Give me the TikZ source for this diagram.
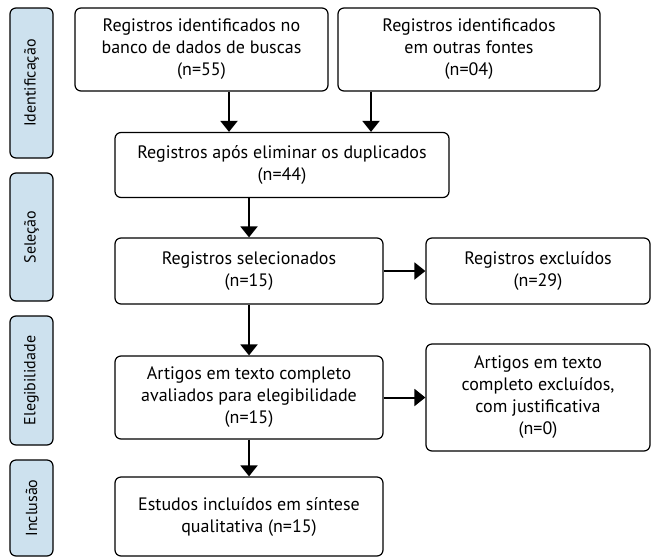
\documentclass[tikz,border=0pt]{standalone}
\usepackage{fontspec}
\setmainfont{PT Sans}
\usetikzlibrary{arrows.meta}
\definecolor{sidefill}{RGB}{205,225,238}
\begin{document}
\begin{tikzpicture}[x=1pt,y=-1pt,
  box/.style={draw, line width=1.2pt, rounded corners=6pt, align=center, inner sep=2pt,
    font=\fontsize{18}{22}\selectfont},
  side/.style={draw, line width=1.2pt, rounded corners=6pt, fill=sidefill,
    font=\fontsize{16}{18}\selectfont, rotate=90, inner sep=0pt},
  arr/.style={line width=2pt, -{Triangle[width=17pt,length=11pt]}}]
\useasboundingbox (0,0) rectangle (651,558);
% side labels
\node[side, minimum width=150pt, minimum height=43pt] (s1) at (31.5,83) {Identificação};
\node[side, minimum width=128pt, minimum height=43pt] (s2) at (31.5,237) {Seleção};
\node[side, minimum width=129pt, minimum height=43pt] (s3) at (31.5,380.5) {Elegibilidade};
\node[side, minimum width=96pt, minimum height=43pt] (s4) at (31.5,508) {Inclusão};
% boxes
\node[box, minimum width=253pt, minimum height=83pt] (A) at (201.5,49.5) {Registros identificados no\\banco de dados de buscas\\(n=55)};
\node[box, minimum width=262pt, minimum height=83pt] (B) at (469,49.5) {Registros identificados\\em outras fontes\\(n=04)};
\node[box, minimum width=334pt, minimum height=65pt] (C) at (282,165) {Registros após eliminar os duplicados\\(n=44)};
\node[box, minimum width=268pt, minimum height=66pt] (D) at (249,271) {Registros selecionados\\(n=15)};
\node[box, minimum width=224pt, minimum height=66pt] (E) at (538,271) {Registros excluídos\\(n=29)};
\node[box, minimum width=268pt, minimum height=83pt] (F) at (249,397.5) {Artigos em texto completo\\avaliados para elegibilidade\\(n=15)};
\node[box, minimum width=224pt, minimum height=107pt] (G) at (538,397.5) {Artigos em texto\\completo excluídos,\\com justificativa\\(n=0)};
\node[box, minimum width=268pt, minimum height=79pt] (H) at (249,516.5) {Estudos incluídos em síntese\\qualitativa (n=15)};
% arrow x positions
\coordinate (xa) at (229,0);
\coordinate (xb) at (371,0);
\coordinate (xc) at (249,0);
\draw[arr] (A.south -| xa) -- (C.north -| xa);
\draw[arr] (B.south -| xb) -- (C.north -| xb);
\draw[arr] (C.south -| xc) -- (D.north -| xc);
\draw[arr] (D.south -| xc) -- (F.north -| xc);
\draw[arr] (F.south -| xc) -- (H.north -| xc);
\draw[arr] (D.east) -- (E.west);
\draw[arr] (F.east) -- (G.west |- F.east);
\end{tikzpicture}
\end{document}
